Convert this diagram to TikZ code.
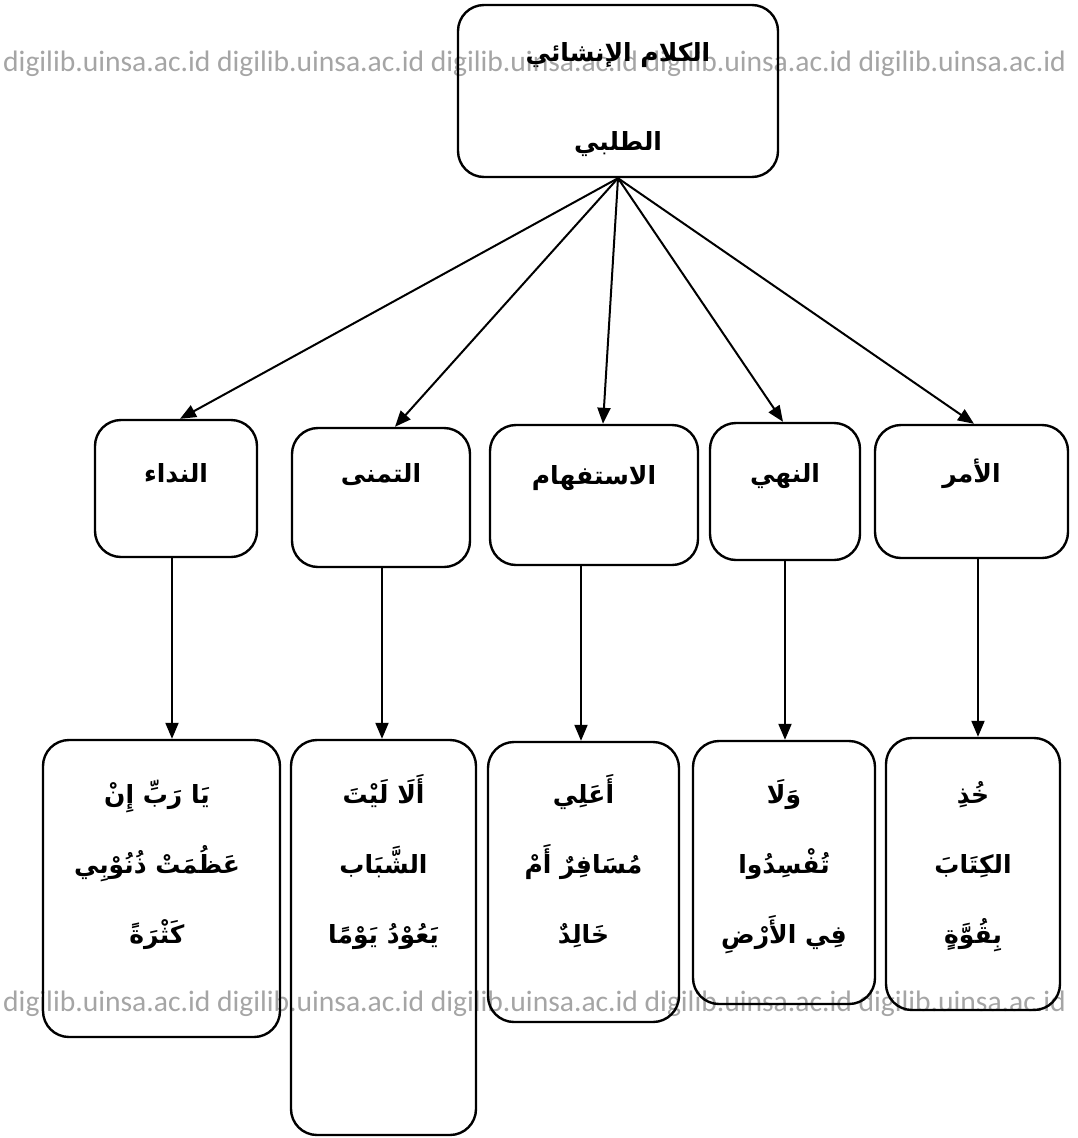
\documentclass[tikz,border=0pt]{standalone}
\usepackage{fontspec}
\setmainfont{DejaVu Sans}
\newfontfamily\arabicfont[Script=Arabic]{DejaVu Sans Bold}
\newfontfamily\wmfont{Carlito}
\TeXXeTstate=1
\usetikzlibrary{arrows.meta,calc}
\definecolor{wmgray}{RGB}{165,165,165}
\newcommand{\artxt}[1]{\beginR #1\endR}
\begin{document}
\begin{tikzpicture}[x=1pt,y=-1pt,
  box/.style={draw,line width=2.4pt,rounded corners=26pt,inner sep=0pt},
  lbl/.style={inner sep=0pt,anchor=base,font=\arabicfont\fontsize{25}{30}\selectfont},
  arr/.style={line width=2pt,-{Triangle[length=16pt,width=13pt]}},
  wm/.style={inner sep=0pt,anchor=base west,text=wmgray,font=\wmfont\fontsize{29.6}{32}\selectfont}
]
\useasboundingbox (0,0) rectangle (1078,1138);
% watermark
\node[wm] (wm1) at (3,71) {digilib.uinsa.ac.id digilib.uinsa.ac.id digilib.uinsa.ac.id digilib.uinsa.ac.id digilib.uinsa.ac.id};
\node[wm] (wm2) at (3,1011) {digilib.uinsa.ac.id digilib.uinsa.ac.id digilib.uinsa.ac.id digilib.uinsa.ac.id digilib.uinsa.ac.id};
% top box
\node[box,minimum width=320pt,minimum height=172pt] (top) at (618,91) {};
\node[lbl] (top1) at (618,61) {\artxt{الكلام الإنشائي}};
\node[lbl] (top2) at (618,150) {\artxt{الطلبي}};
% level 2
\node[box,minimum width=162pt,minimum height=137pt] (b1) at (176,488.5) {};
\node[box,minimum width=178pt,minimum height=139pt] (b2) at (381,497.5) {};
\node[box,minimum width=208pt,minimum height=140pt] (b3) at (594,495) {};
\node[box,minimum width=150pt,minimum height=137pt] (b4) at (785,491.5) {};
\node[box,minimum width=193pt,minimum height=133pt] (b5) at (971.5,491.5) {};
\node[lbl] (l1) at (176,482) {\artxt{النداء}};
\node[lbl] (l2) at (381,482) {\artxt{التمنى}};
\node[lbl] (l3) at (594,484) {\artxt{الاستفهام}};
\node[lbl] (l4) at (785,482) {\artxt{النهي}};
\node[lbl] (l5) at (971.5,482) {\artxt{الأمر}};
% level 3
\node[box,minimum width=237pt,minimum height=297pt] (c1) at (161.5,888.5) {};
\node[box,minimum width=185pt,minimum height=395pt] (c2) at (383.5,937.5) {};
\node[box,minimum width=191pt,minimum height=280pt] (c3) at (583.5,882) {};
\node[box,minimum width=182pt,minimum height=263pt] (c4) at (784,872.5) {};
\node[box,minimum width=174pt,minimum height=272pt] (c5) at (973,874) {};
% texts level 3
\node[lbl] (t11) at (157,803) {\artxt{يَا رَبِّ إِنْ}};
\node[lbl] (t12) at (157,873) {\artxt{عَظُمَتْ ذُنُوْبِي}};
\node[lbl] (t13) at (157,943) {\artxt{كَثْرَةً}};
\node[lbl] (t21) at (383.5,803) {\artxt{أَلَا لَيْتَ}};
\node[lbl] (t22) at (383.5,873) {\artxt{الشَّبَاب}};
\node[lbl] (t23) at (383.5,943) {\artxt{يَعُوْدُ يَوْمًا}};
\node[lbl] (t31) at (583.5,803) {\artxt{أَعَلِي}};
\node[lbl] (t32) at (583.5,873) {\artxt{مُسَافِرٌ أَمْ}};
\node[lbl] (t33) at (583.5,943) {\artxt{خَالِدٌ}};
\node[lbl] (t41) at (784,803) {\artxt{وَلَا}};
\node[lbl] (t42) at (784,873) {\artxt{تُفْسِدُوا}};
\node[lbl] (t43) at (784,943) {\artxt{فِي الأَرْضِ}};
\node[lbl] (t51) at (973,803) {\artxt{خُذِ}};
\node[lbl] (t52) at (973,873) {\artxt{الكِتَابَ}};
\node[lbl] (t53) at (973,943) {\artxt{بِقُوَّةٍ}};
% arrows from top
\draw[arr] (top.south) -- ([xshift=4pt]b1.north);
\draw[arr] (top.south) -- ([xshift=14pt]b2.north);
\draw[arr] (top.south) -- ([xshift=9pt]b3.north);
\draw[arr] (top.south) -- ([xshift=-2pt]b4.north);
\draw[arr] (top.south) -- ([xshift=2.5pt]b5.north);
% vertical arrows
\coordinate (v1) at (172,0);
\coordinate (v2) at (382,0);
\coordinate (v3) at (581,0);
\coordinate (v4) at (785,0);
\coordinate (v5) at (978,0);
\draw[arr] (b1.south -| v1) -- (c1.north -| v1);
\draw[arr] (b2.south -| v2) -- (c2.north -| v2);
\draw[arr] (b3.south -| v3) -- (c3.north -| v3);
\draw[arr] (b4.south -| v4) -- (c4.north -| v4);
\draw[arr] (b5.south -| v5) -- (c5.north -| v5);
\end{tikzpicture}
\end{document}
